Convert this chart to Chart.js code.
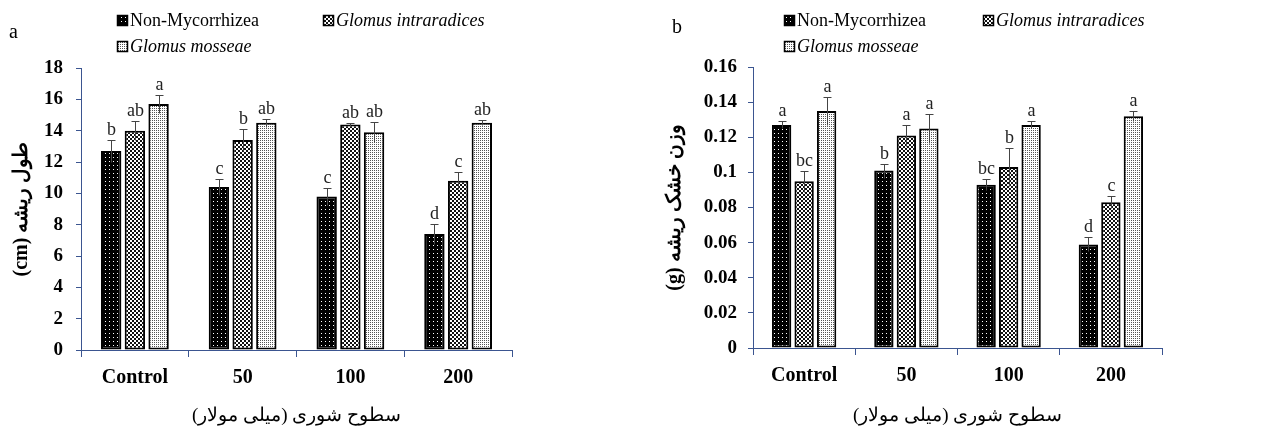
<!DOCTYPE html>
<html>
<head>
<meta charset="utf-8">
<script src="https://cdn.jsdelivr.net/npm/chart.js@4.4.1/dist/chart.umd.min.js"></script>
<style>
  body { margin: 0; background: #fff; width: 1266px; height: 432px; overflow: hidden; position: relative; }
  canvas { position: absolute; top: 0; }
  #lenChart { left: 0; }
  #wtChart { left: 633px; }
</style>
</head>
<body>
<canvas id="lenChart" width="633" height="432"></canvas>
<canvas id="wtChart" width="633" height="432"></canvas>
<script>
// Categories and series
var categories = ['Control', '50', '100', '200'];
var seriesNames = ['Non-Mycorrhizea', 'Glomus intraradices', 'Glomus mosseae'];

// Panel a - root length (cm)
var lenNonMyco = [12.7, 10.4, 9.8, 7.4];
var lenIntra = [14.0, 13.4, 14.4, 10.8];
var lenMosseae = [15.7, 14.5, 13.9, 14.5];
var lenErrNonMyco = [0.7, 0.5, 0.55, 0.65];
var lenErrIntra = [0.6, 0.7, 0.1, 0.55];
var lenErrMosseae = [0.6, 0.25, 0.65, 0.15];
var lenLetNonMyco = ['b', 'c', 'c', 'd'];
var lenLetIntra = ['ab', 'b', 'ab', 'c'];
var lenLetMosseae = ['a', 'ab', 'ab', 'ab'];

// Panel b - root dry weight (g)
var wtNonMyco = [0.127, 0.101, 0.093, 0.059];
var wtIntra = [0.095, 0.121, 0.103, 0.083];
var wtMosseae = [0.135, 0.125, 0.127, 0.132];
var wtErrNonMyco = [0.002, 0.004, 0.003, 0.004];
var wtErrIntra = [0.006, 0.006, 0.011, 0.0035];
var wtErrMosseae = [0.008, 0.008, 0.002, 0.003];
var wtLetNonMyco = ['a', 'b', 'bc', 'd'];
var wtLetIntra = ['bc', 'a', 'b', 'c'];
var wtLetMosseae = ['a', 'a', 'a', 'a'];

var axisColor = '#3b5590';
var serif = '"Liberation Serif", "Times New Roman", serif';

// hatch-like fills
function makePattern(kind) {
    var c = document.createElement('canvas');
    c.width = 4; c.height = 4;
    var p = c.getContext('2d');
    if (kind === 'dots') {
        p.fillStyle = '#000'; p.fillRect(0, 0, 4, 4);
        p.fillStyle = '#fff'; p.fillRect(1, 1, 1, 1);
    } else if (kind === 'check') {
        p.fillStyle = '#fff'; p.fillRect(0, 0, 4, 4);
        p.fillStyle = '#111'; p.fillRect(0, 0, 2, 2); p.fillRect(2, 2, 2, 2);
    } else {
        p.fillStyle = '#fff'; p.fillRect(0, 0, 4, 4);
        p.fillStyle = '#555'; p.fillRect(0, 0, 1, 1); p.fillRect(2, 0, 1, 1);
        p.fillRect(0, 2, 1, 1); p.fillRect(2, 2, 1, 1);
    }
    return p.createPattern(c, 'repeat');
}

// error bars and significance letters
var barExtras = {
    id: 'barExtras',
    afterDatasetsDraw: function(chart) {
        var ctx = chart.ctx;
        var y = chart.scales.y;
        ctx.save();
        chart.data.datasets.forEach(function(ds, i) {
            chart.getDatasetMeta(i).data.forEach(function(bar, j) {
                var x = Math.round(bar.x) + 0.5;
                var hi = Math.round(y.getPixelForValue(ds.data[j] + ds.errors[j])) + 0.5;
                var lo = Math.round(y.getPixelForValue(ds.data[j] - ds.errors[j])) + 0.5;
                ctx.strokeStyle = '#444';
                ctx.lineWidth = 1;
                ctx.beginPath();
                ctx.moveTo(x, lo); ctx.lineTo(x, hi);
                ctx.moveTo(x - 4, hi); ctx.lineTo(x + 4, hi);
                ctx.stroke();
                ctx.fillStyle = '#222';
                ctx.font = '18px ' + serif;
                ctx.textAlign = 'center';
                ctx.textBaseline = 'bottom';
                ctx.fillText(ds.letters[j], x, hi - 1);
            });
        });
        ctx.restore();
    }
};

// legend at the top plus the panel letter
var panelLegend = {
    id: 'panelLegend',
    afterDraw: function(chart, args, opts) {
        var ctx = chart.ctx;
        ctx.save();
        ctx.fillStyle = '#000';
        ctx.textAlign = 'left';
        ctx.textBaseline = 'alphabetic';
        ctx.font = '20px ' + serif;
        ctx.fillText(opts.letter, opts.letterX, opts.letterY);
        chart.data.datasets.forEach(function(ds, i) {
            var bx = opts.items[i][0], by = opts.items[i][1];
            ctx.fillStyle = ds.backgroundColor;
            ctx.fillRect(bx, by - 5, 11, 11);
            ctx.strokeStyle = '#000';
            ctx.lineWidth = 1.5;
            ctx.strokeRect(bx + 0.5, by - 4.5, 10, 10);
            ctx.fillStyle = '#000';
            ctx.font = (i > 0 ? 'italic ' : '') + '18px ' + serif;
            ctx.textBaseline = 'middle';
            ctx.fillText(ds.label, bx + 13, by + 1);
        });
        ctx.restore();
    }
};

function makeChart(id, s) {
    var ctx = document.getElementById(id).getContext('2d');
    var fills = [makePattern('dots'), makePattern('check'), makePattern('fine')];
    var datasets = s.values.map(function(vals, i) {
        return {
            label: seriesNames[i],
            data: vals,
            errors: s.errors[i],
            letters: s.letters[i],
            backgroundColor: fills[i],
            borderColor: '#000',
            borderWidth: 2,
            borderSkipped: false,
            categoryPercentage: 0.66,
            barPercentage: 0.86
        };
    });
    return new Chart(ctx, {
        type: 'bar',
        data: { labels: categories, datasets: datasets },
        plugins: [barExtras, panelLegend],
        options: {
            responsive: false,
            animation: false,
            layout: { padding: { top: s.top, right: s.right, left: 0, bottom: 0 } },
            plugins: {
                legend: { display: false },
                tooltip: { enabled: false },
                panelLegend: s.legend
            },
            scales: {
                x: {
                    grid: { drawOnChartArea: false, offset: true, tickLength: 7, color: axisColor },
                    border: { color: axisColor, width: 1 },
                    ticks: { color: '#000', padding: 9, font: { family: serif, size: 20, weight: 'bold' } },
                    title: {
                        display: true,
                        text: '\u202Bسطوح شوری (میلی مولار)\u202C',
                        color: '#000',
                        font: { family: serif, size: 19 },
                        padding: { top: 0, bottom: 5 }
                    },
                    afterFit: function(scale) { scale.height = s.xHeight; }
                },
                y: {
                    min: 0,
                    max: s.max,
                    grid: { drawOnChartArea: false, tickLength: 5, color: axisColor },
                    border: { color: axisColor, width: 1 },
                    ticks: {
                        stepSize: s.step,
                        color: '#000',
                        padding: s.tickPad,
                        font: { family: serif, size: 19, weight: 'bold' },
                        callback: function(v) { return String(+v.toFixed(2)); }
                    },
                    title: {
                        display: true,
                        text: '\u202B' + s.yTitle + '\u202C',
                        color: '#000',
                        font: { family: serif, size: 20, weight: 'bold' },
                        padding: { top: s.titlePad, bottom: 0 }
                    },
                    afterFit: function(scale) { scale.width = s.yWidth; }
                }
            }
        }
    });
}

makeChart('lenChart', {
    values: [lenNonMyco, lenIntra, lenMosseae],
    errors: [lenErrNonMyco, lenErrIntra, lenErrMosseae],
    letters: [lenLetNonMyco, lenLetIntra, lenLetMosseae],
    max: 18, step: 2,
    yTitle: 'طول ریشه (cm)',
    top: 68, right: 121, xHeight: 82, yWidth: 81, tickPad: 13, titlePad: 10,
    legend: { letter: 'a', letterX: 9, letterY: 38, items: [[117, 20], [323, 20], [117, 46]] }
});

makeChart('wtChart', {
    values: [wtNonMyco, wtIntra, wtMosseae],
    errors: [wtErrNonMyco, wtErrIntra, wtErrMosseae],
    letters: [wtLetNonMyco, wtLetIntra, wtLetMosseae],
    max: 0.16, step: 0.02,
    yTitle: 'وزن خشک ریشه (g)',
    top: 67, right: 104, xHeight: 84, yWidth: 120, tickPad: 11, titlePad: 30,
    legend: { letter: 'b', letterX: 39, letterY: 33, items: [[151, 20], [350, 20], [151, 46]] }
});
</script>
</body>
</html>
